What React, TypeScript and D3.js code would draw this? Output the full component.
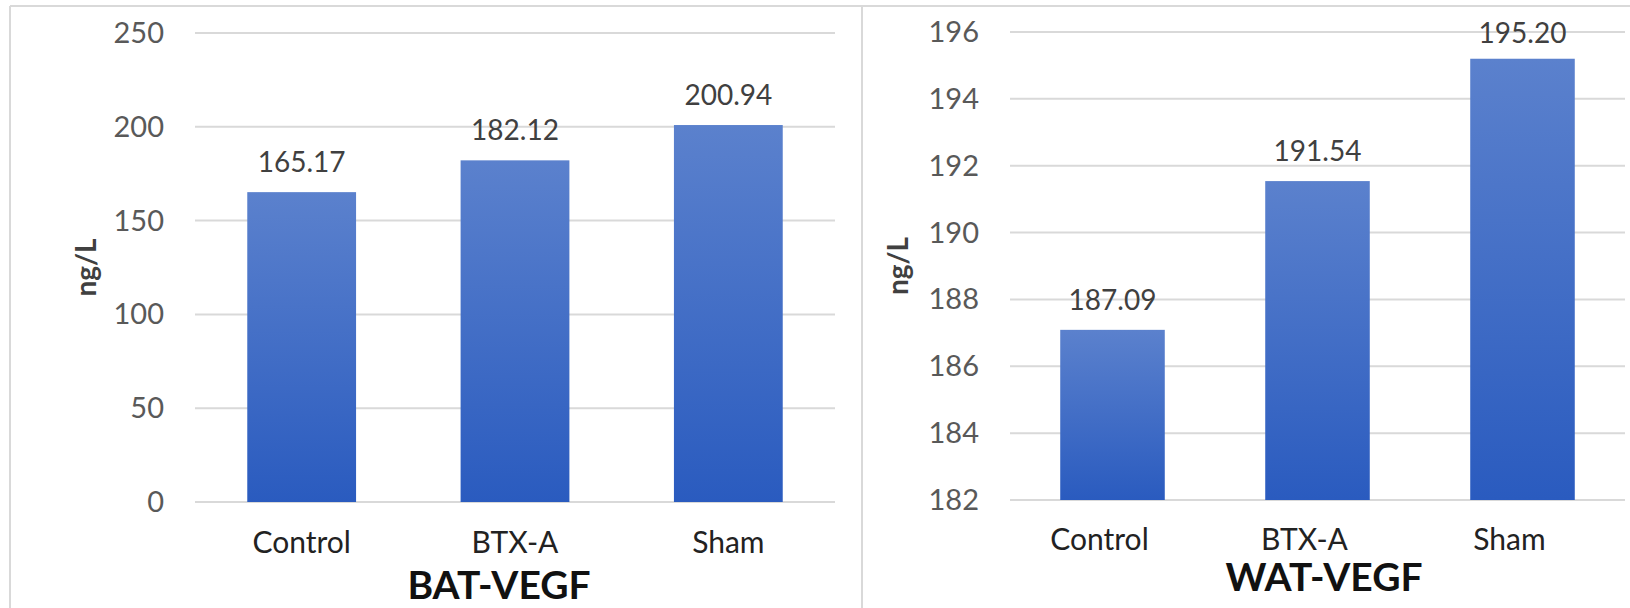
import React from "react";
import * as d3 from "d3";

const categories = ["Control", "BTX-A", "Sham"];
const batValues = [165.17, 182.12, 200.94];
const watValues = [187.09, 191.54, 195.2];
const batTicks = [0, 50, 100, 150, 200, 250];
const watTicks = [182, 184, 186, 188, 190, 192, 194, 196];
const yAxisTitle = "ng/L";
const batTitle = "BAT-VEGF";
const watTitle = "WAT-VEGF";

const W = 1630;
const H = 608;
const FONT = "Lato, 'Open Sans', sans-serif";

type PanelProps = {
  id: string;
  values: number[];
  ticks: number[];
  left: number;
  right: number;
  top: number;
  bottom: number;
  yTitleX: number;
  title: string;
  titleX: number;
  titleY: number;
  catY: number;
  catDx: number;
};

function Panel(p: PanelProps) {
  const x = d3
    .scaleBand<string>()
    .domain(categories)
    .range([p.left, p.right])
    .paddingInner(0.49)
    .paddingOuter(0.245);
  const y = d3
    .scaleLinear()
    .domain([p.ticks[0], p.ticks[p.ticks.length - 1]])
    .range([p.bottom, p.top]);
  const gradId = `grad-${p.id}`;
  const yMid = (p.top + p.bottom) / 2;
  return (
    <g>
      <defs>
        <linearGradient id={gradId} x1="0" y1="0" x2="0" y2="1">
          <stop offset="0%" stopColor="#5B81CD" />
          <stop offset="100%" stopColor="#2A5BBF" />
        </linearGradient>
      </defs>
      {p.ticks.map((t) => (
        <g key={t}>
          <line
            x1={p.left}
            x2={p.right}
            y1={y(t)}
            y2={y(t)}
            stroke="#d9d9d9"
            strokeWidth={2}
          />
          <text
            x={p.left - 31}
            y={y(t) + 10}
            textAnchor="end"
            fontSize={29}
            fill="#595959"
            fontFamily={FONT}
          >
            {t}
          </text>
        </g>
      ))}
      {categories.map((c, i) => {
        const v = p.values[i];
        const bx = x(c) as number;
        const top = y(v);
        const labelY = Math.max(top - 20, p.top + 11);
        return (
          <g key={c}>
            <rect
              x={bx}
              y={top}
              width={x.bandwidth()}
              height={p.bottom - top}
              fill={`url(#${gradId})`}
            />
            <text
              x={bx + x.bandwidth() / 2}
              y={labelY}
              textAnchor="middle"
              fontSize={28}
              fill="#404040"
              fontFamily={FONT}
            >
              {v.toFixed(2)}
            </text>
            <text
              x={bx + x.bandwidth() / 2 + p.catDx}
              y={p.catY}
              textAnchor="middle"
              fontSize={30}
              fill="#222222"
              fontFamily={FONT}
            >
              {c}
            </text>
          </g>
        );
      })}
      <text
        transform={`translate(${p.yTitleX},${yMid}) rotate(-90)`}
        textAnchor="middle"
        fontSize={28}
        fontWeight="bold"
        fill="#404040"
        fontFamily={FONT}
      >
        {yAxisTitle}
      </text>
      <text
        x={p.titleX}
        y={p.titleY}
        textAnchor="middle"
        fontSize={39}
        fontWeight="bold"
        fill="#111111"
        fontFamily={FONT}
      >
        {p.title}
      </text>
    </g>
  );
}

export default function App() {
  return (
    <div style={{ position: "fixed", left: 0, top: 0 }}>
      <svg width={W} height={H} style={{ display: "block", background: "#fff" }}>
        <rect x={0} y={0} width={W} height={H} fill="#ffffff" />
        {/* frame around the two chart panels */}
        <line x1={10} x2={W} y1={6} y2={6} stroke="#d9d9d9" strokeWidth={2} />
        <line x1={10} x2={10} y1={6} y2={H} stroke="#d9d9d9" strokeWidth={2} />
        <line x1={862} x2={862} y1={6} y2={H} stroke="#d9d9d9" strokeWidth={2} />
        <Panel
          id="bat"
          values={batValues}
          ticks={batTicks}
          left={195}
          right={835}
          top={33}
          bottom={502}
          yTitleX={96}
          title={batTitle}
          titleX={499}
          titleY={599}
          catY={553}
          catDx={0}
        />
        <Panel
          id="wat"
          values={watValues}
          ticks={watTicks}
          left={1010}
          right={1625}
          top={32}
          bottom={500}
          yTitleX={908}
          title={watTitle}
          titleX={1324}
          titleY={591}
          catY={550}
          catDx={-13}
        />
      </svg>
    </div>
  );
}
